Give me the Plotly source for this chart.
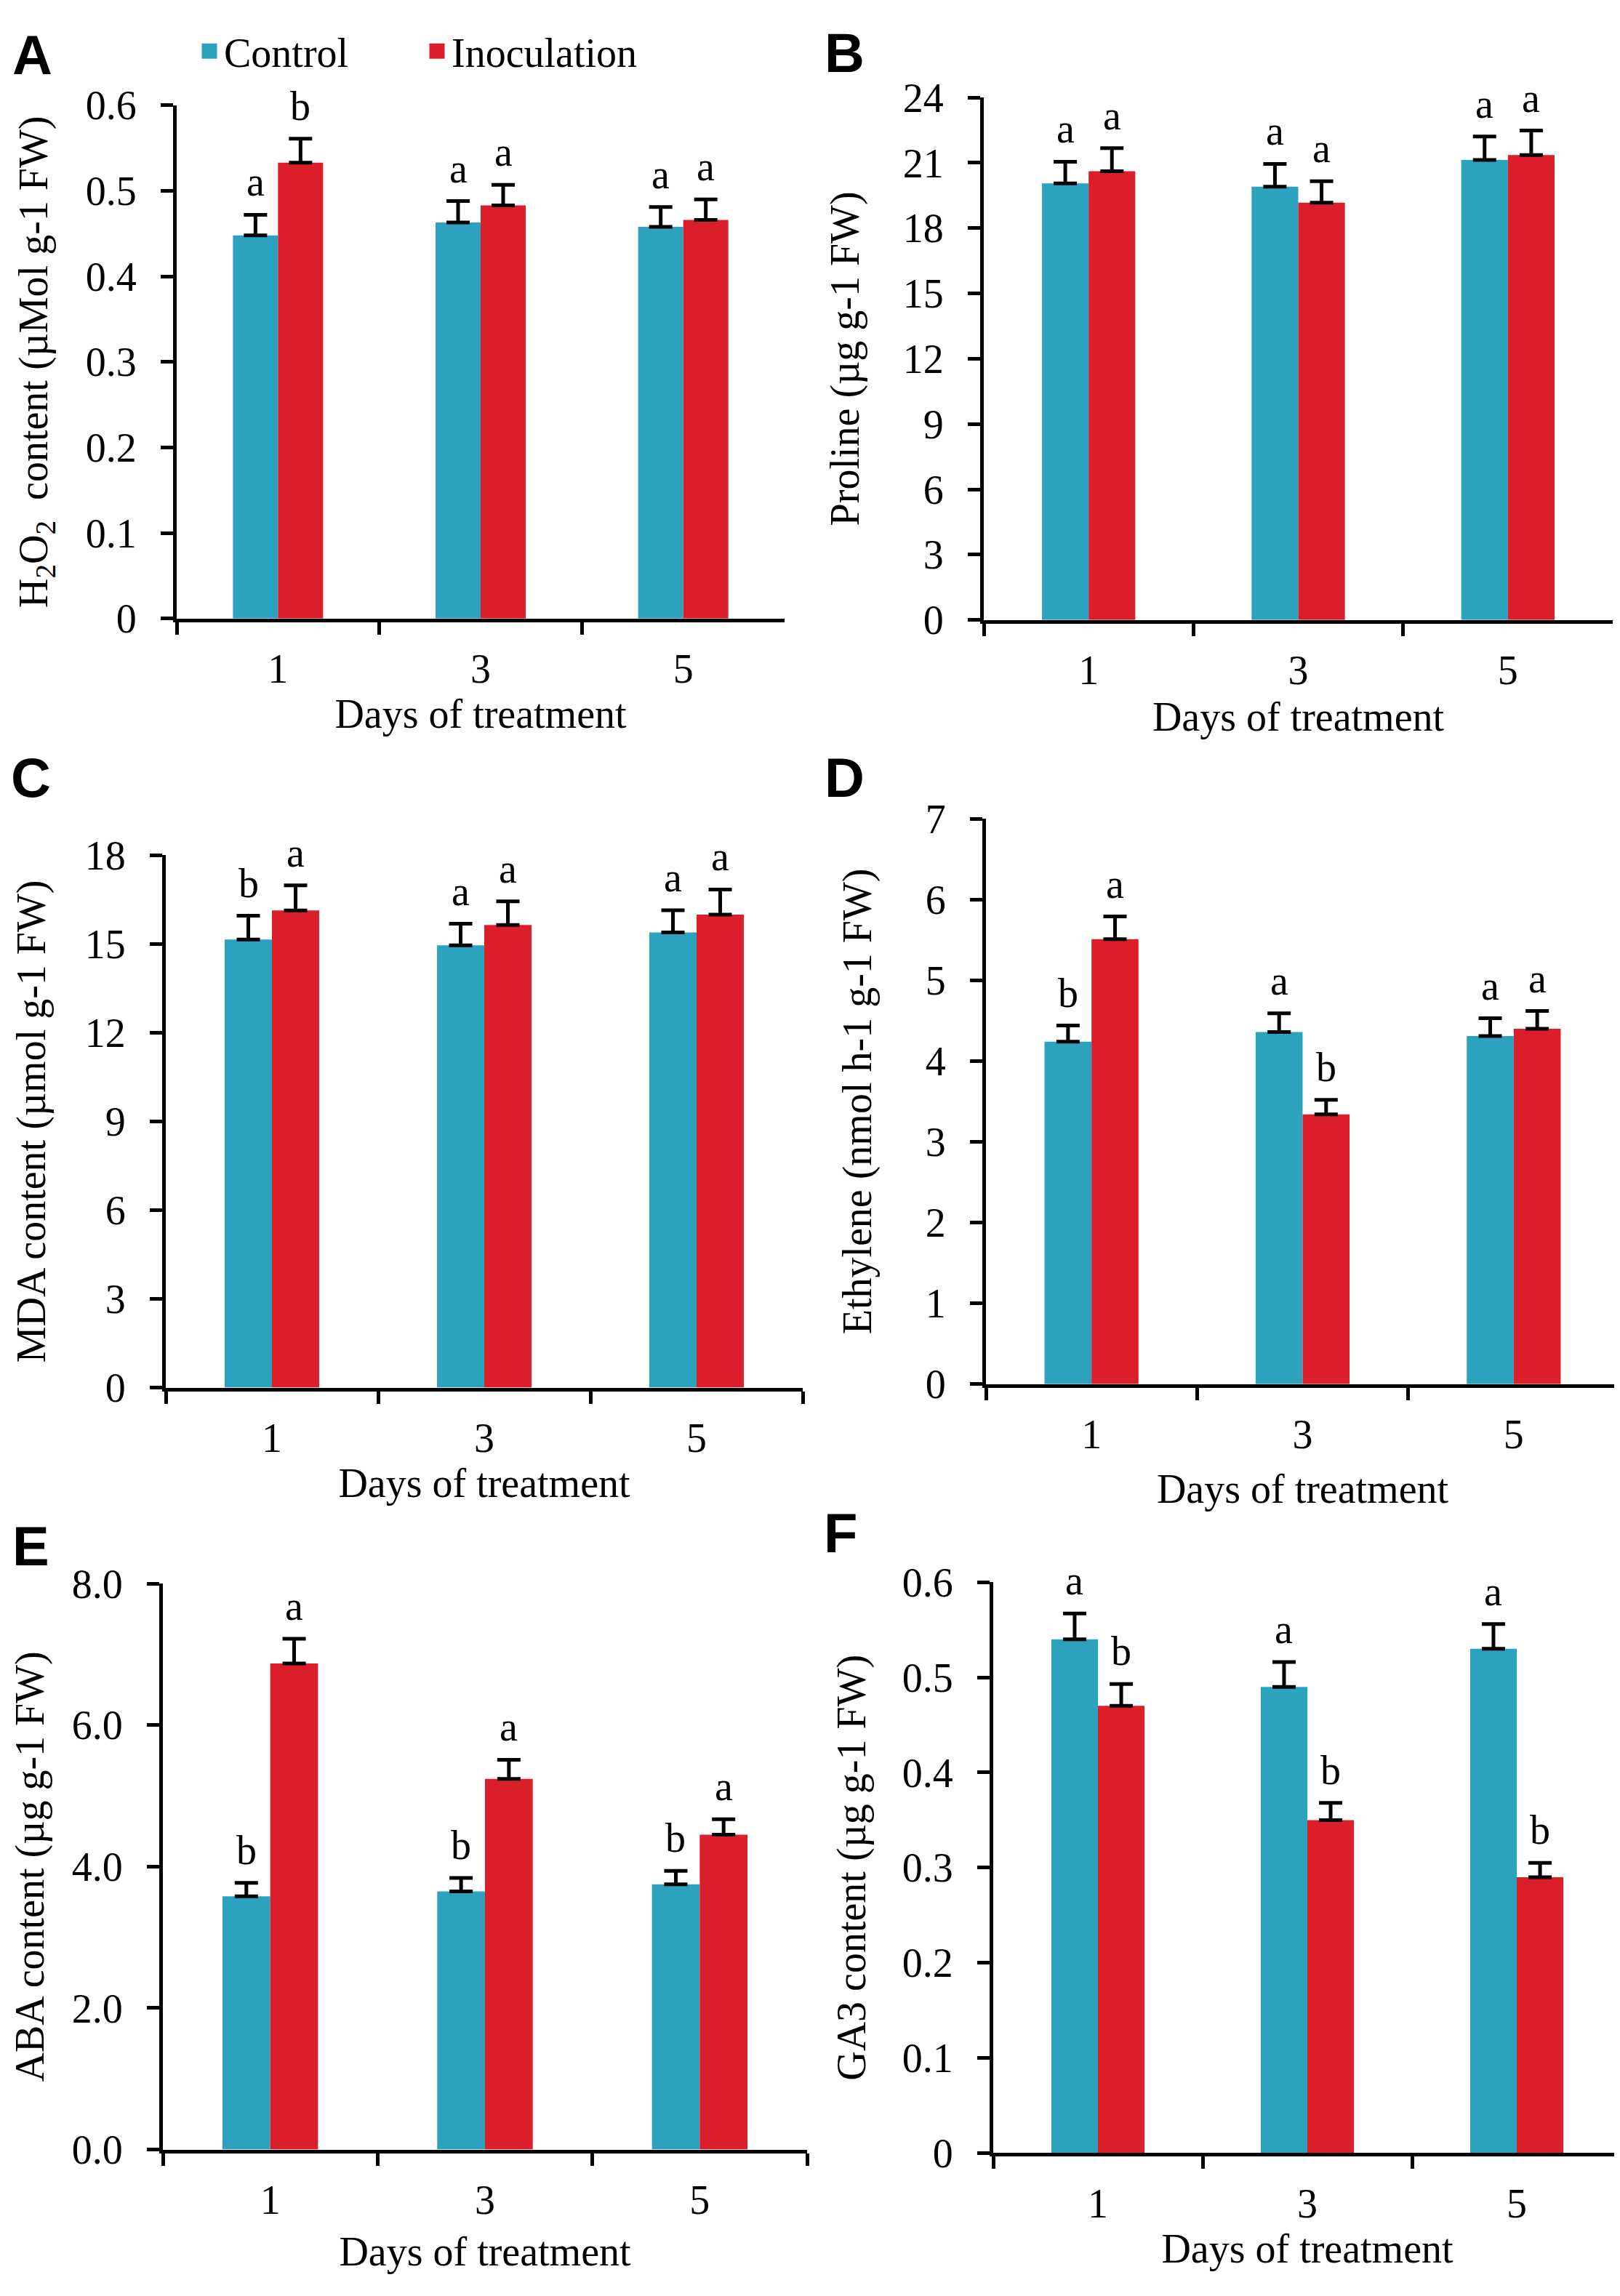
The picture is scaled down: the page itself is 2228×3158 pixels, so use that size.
import plotly.graph_objects as go

W, H = 2228, 3158

# ---------------- data ----------------
days = ["1", "3", "5"]
series_names = ["Control", "Inoculation"]

h2o2_control = [0.448, 0.463, 0.458]
h2o2_control_err = [0.024, 0.025, 0.023]
h2o2_inoc = [0.533, 0.483, 0.466]
h2o2_inoc_err = [0.028, 0.024, 0.024]
h2o2_control_letters = ["a", "a", "a"]
h2o2_inoc_letters = ["b", "a", "a"]

proline_control = [20.05, 19.9, 21.13]
proline_control_err = [1.0, 1.05, 1.08]
proline_inoc = [20.61, 19.17, 21.36]
proline_inoc_err = [1.06, 0.98, 1.12]
proline_control_letters = ["a", "a", "a"]
proline_inoc_letters = ["a", "a", "a"]

mda_control = [15.15, 14.95, 15.39]
mda_control_err = [0.8, 0.73, 0.75]
mda_inoc = [16.13, 15.64, 15.99]
mda_inoc_err = [0.85, 0.8, 0.85]
mda_control_letters = ["b", "a", "a"]
mda_inoc_letters = ["a", "a", "a"]

eth_control = [4.24, 4.36, 4.31]
eth_control_err = [0.2, 0.23, 0.22]
eth_inoc = [5.51, 3.34, 4.40]
eth_inoc_err = [0.28, 0.18, 0.22]
eth_control_letters = ["b", "a", "a"]
eth_inoc_letters = ["a", "b", "a"]

aba_control = [3.58, 3.65, 3.75]
aba_control_err = [0.19, 0.19, 0.19]
aba_inoc = [6.87, 5.24, 4.45]
aba_inoc_err = [0.35, 0.27, 0.22]
aba_control_letters = ["b", "b", "b"]
aba_inoc_letters = ["a", "a", "a"]

ga3_control = [0.540, 0.490, 0.530]
ga3_control_err = [0.027, 0.026, 0.026]
ga3_inoc = [0.470, 0.350, 0.290]
ga3_inoc_err = [0.023, 0.018, 0.015]
ga3_control_letters = ["a", "a", "a"]
ga3_inoc_letters = ["b", "b", "b"]

panel_letters = ["A", "B", "C", "D", "E", "F"]
y_titles = [
    "H<sub>2</sub>O<sub>2</sub>  content (µMol g-1 FW)",
    "Proline (µg g-1 FW)",
    "MDA content (µmol g-1 FW)",
    "Ethylene (nmol h-1 g-1 FW)",
    "ABA content (µg g-1 FW)",
    "GA3 content (µg g-1 FW)",
]
x_title = "Days of treatment"

# ---------------- style / layout ----------------
C_CTRL = "#2CA2BF"
C_INOC = "#DA1F2B"
SERIF = "Liberation Serif"
SANS = "Liberation Sans"
FS = 56
BARGAP = 0.555

panels = [
    dict(c=h2o2_control, ce=h2o2_control_err, i=h2o2_inoc, ie=h2o2_inoc_err,
         cl=h2o2_control_letters, il=h2o2_inoc_letters, rng=[0, 0.6], dtick=0.1, fmt=None,
         px=(235, 1071), py=(109, 829), xs=0, ys=36, letter_pos=(36, 38)),
    dict(c=proline_control, ce=proline_control_err, i=proline_inoc, ie=proline_inoc_err,
         cl=proline_control_letters, il=proline_inoc_letters, rng=[0, 24], dtick=3, fmt=None,
         px=(1345, 2210), py=(98, 831), xs=15, ys=44, letter_pos=(1153, 35)),
    dict(c=mda_control, ce=mda_control_err, i=mda_inoc, ie=mda_inoc_err,
         cl=mda_control_letters, il=mda_inoc_letters, rng=[0, 18], dtick=3, fmt=None,
         px=(220, 1096), py=(1161, 1908), xs=9, ys=38, letter_pos=(34, 1052)),
    dict(c=eth_control, ce=eth_control_err, i=eth_inoc, ie=eth_inoc_err,
         cl=eth_control_letters, il=eth_inoc_letters, rng=[0, 7], dtick=1, fmt=None,
         px=(1348, 2219), py=(1110, 1903), xs=26, ys=58, letter_pos=(1153, 1052)),
    dict(c=aba_control, ce=aba_control_err, i=aba_inoc, ie=aba_inoc_err,
         cl=aba_control_letters, il=aba_inoc_letters, rng=[0, 8], dtick=2, fmt=".1f",
         px=(216, 1102), py=(2183, 2977), xs=23, ys=22, letter_pos=(34, 2130)),
    dict(c=ga3_control, ce=ga3_control_err, i=ga3_inoc, ie=ga3_inoc_err,
         cl=ga3_control_letters, il=ga3_inoc_letters, rng=[0, 0.6], dtick=0.1, fmt=None,
         px=(1358, 2222), py=(2181, 2982), xs=9, ys=34, letter_pos=(1148, 2112)),
]

fig = go.Figure()
annotations = []
layout_axes = {}
half = (1 - BARGAP) / 4.0

for k, p in enumerate(panels):
    sfx = "" if k == 0 else str(k + 1)
    xa, ya = "x" + sfx, "y" + sfx
    for vals, errs, name, col in [(p["c"], p["ce"], series_names[0], C_CTRL),
                                  (p["i"], p["ie"], series_names[1], C_INOC)]:
        fig.add_trace(go.Bar(
            x=days, y=vals, name=name, marker=dict(color=col, line=dict(width=0)),
            error_y=dict(type="data", symmetric=False, array=errs, arrayminus=[0] * len(errs),
                         color="black", thickness=5, width=16),
            xaxis=xa, yaxis=ya, showlegend=False, legendgroup=name,
        ))
    # significance letters
    for j in range(len(days)):
        for off, vals, errs, labs in [(-half, p["c"], p["ce"], p["cl"]),
                                      (half, p["i"], p["ie"], p["il"])]:
            annotations.append(dict(
                x=j + off, y=vals[j] + errs[j], xref=xa, yref=ya, text=labs[j],
                showarrow=False, yanchor="bottom", xanchor="center", yshift=12,
                font=dict(family=SERIF, size=FS, color="black")))
    # panel letter
    lx, ly = p["letter_pos"]
    annotations.append(dict(x=lx / W, y=1 - ly / H, xref="paper", yref="paper",
                            text="<b>%s</b>" % panel_letters[k], showarrow=False,
                            xanchor="center", yanchor="middle",
                            font=dict(family=SANS, size=76, color="black")))
    xname = "xaxis" + sfx
    yname = "yaxis" + sfx
    layout_axes[xname] = dict(
        domain=[p["px"][0] / W, p["px"][1] / W], anchor=ya, type="category",
        categoryorder="array", categoryarray=days,
        showline=True, linecolor="black", linewidth=5, ticks="outside", tickson="boundaries",
        ticklen=17, tickwidth=4.5, tickcolor="black", showgrid=False, zeroline=False,
        tickfont=dict(family=SERIF, size=FS, color="black"), ticklabelstandoff=16,
        title=dict(text=x_title, font=dict(family=SERIF, size=FS, color="black"), standoff=p["xs"]),
        fixedrange=True,
    )
    ydict = dict(
        domain=[1 - p["py"][1] / H, 1 - p["py"][0] / H], anchor=xa, range=p["rng"],
        dtick=p["dtick"], tick0=0, showline=True, linecolor="black", linewidth=5,
        ticks="outside", ticklen=17, tickwidth=4.5, tickcolor="black", showgrid=False,
        zeroline=False, tickfont=dict(family=SERIF, size=FS, color="black"), ticklabelstandoff=22,
        title=dict(text=y_titles[k], font=dict(family=SERIF, size=FS, color="black"), standoff=p["ys"]),
        fixedrange=True,
    )
    if p["fmt"]:
        ydict["tickformat"] = p["fmt"]
    layout_axes[yname] = ydict

# legend entries (legend-only markers so the swatches can be larger)
for name, col in zip(series_names, [C_CTRL, C_INOC]):
    fig.add_trace(go.Scatter(
        x=[None], y=[None], mode="markers", name=name, legendgroup=name,
        marker=dict(symbol="square", size=16, color=col, line=dict(color=col, width=5)),
        xaxis="x", yaxis="y", showlegend=True, hoverinfo="skip",
    ))

fig.update_layout(
    width=W, height=H, margin=dict(l=0, r=0, t=0, b=0),
    paper_bgcolor="white", plot_bgcolor="white",
    barmode="group", bargap=BARGAP, bargroupgap=0,
    annotations=annotations,
    legend=dict(orientation="h", x=260 / W, y=1 - 33 / H, xanchor="left", yanchor="middle",
                font=dict(family=SERIF, size=FS, color="black"), entrywidth=268,
                itemwidth=30, itemsizing="trace", bgcolor="rgba(0,0,0,0)", traceorder="normal"),
    **layout_axes,
)

fig.write_html("out.html")
